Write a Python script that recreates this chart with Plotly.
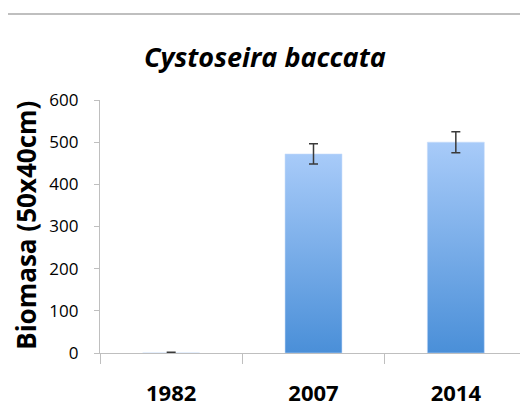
import plotly.graph_objects as go

years = ["1982", "2007", "2014"]
biomass = [1, 472, 500]
errors = [1, 24, 25]
y_ticks = [0, 100, 200, 300, 400, 500, 600]

bar_width = 0.4
light_blue = "#a8cbf9"
dark_blue = "#4a8fd8"

fig = go.Figure()

for i, (yr, v) in enumerate(zip(years, biomass)):
    x0, x1 = i - bar_width / 2, i + bar_width / 2
    fig.add_trace(go.Scatter(
        x=[x0, x1, x1, x0, x0],
        y=[0, 0, v, v, 0],
        mode="lines",
        line=dict(width=0.6, color="rgba(200,220,250,0.9)"),
        fill="toself",
        fillgradient=dict(type="vertical",
                          colorscale=[[0, dark_blue], [1, light_blue]]),
        hoverinfo="skip",
        showlegend=False,
        name=yr,
    ))

fig.add_trace(go.Scatter(
    x=list(range(len(years))),
    y=biomass,
    mode="markers",
    marker=dict(size=1, color="rgba(0,0,0,0)"),
    error_y=dict(type="data", array=errors, visible=True,
                 color="#3a3a3a", thickness=1.5, width=4.5),
    showlegend=False,
    hoverinfo="skip",
))

fig.update_layout(
    width=520, height=406,
    margin=dict(l=92, r=1, t=92, b=61),
    paper_bgcolor="white",
    plot_bgcolor="white",
    title=dict(text="<b><i>Cystoseira baccata</i></b>",
               x=0.494, xref="container", xanchor="center",
               y=0.879, yref="container", yanchor="middle",
               font=dict(family="Open Sans", size=27, color="black")),
    font=dict(family="Open Sans", color="black"),
    shapes=[dict(type="line", xref="paper", yref="paper",
                 x0=-0.2155, x1=1.003, y0=1.34, y1=1.34,
                 line=dict(color="#aaaaaa", width=1.5))],
    annotations=[dict(text="<b>Biomasa (50x40cm)</b>",
                      xref="paper", yref="paper", x=-0.172, y=0.505,
                      xanchor="center", yanchor="middle", textangle=-90,
                      showarrow=False,
                      font=dict(family="Open Sans", size=26, color="black"))],
)

fig.update_xaxes(
    range=[-0.5, 2.5],
    automargin=False,
    tickmode="array",
    tickvals=list(range(len(years))),
    ticktext=["<b>%s</b>" % y for y in years],
    tickfont=dict(family="Open Sans", size=22, color="black"),
    ticks="", ticklen=0,
    showline=True, linecolor="#bfbfbf", linewidth=1.2,
    showgrid=False, zeroline=False,
    minor=dict(ticks="outside", tick0=0.5, dtick=1, ticklen=10,
               tickcolor="#bfbfbf", tickwidth=1.2, showgrid=False),
    ticklabelstandoff=20,
)

fig.update_yaxes(
    range=[0, 600],
    automargin=False,
    tickmode="array",
    tickvals=y_ticks,
    ticks="outside", ticklen=5, tickcolor="#bfbfbf", tickwidth=1.2,
    tickfont=dict(family="Open Sans", size=17, color="black"),
    ticklabelstandoff=12,
    showline=True, linecolor="#bfbfbf", linewidth=1.2,
    showgrid=False, zeroline=False,
)

fig.write_html("out.html")
